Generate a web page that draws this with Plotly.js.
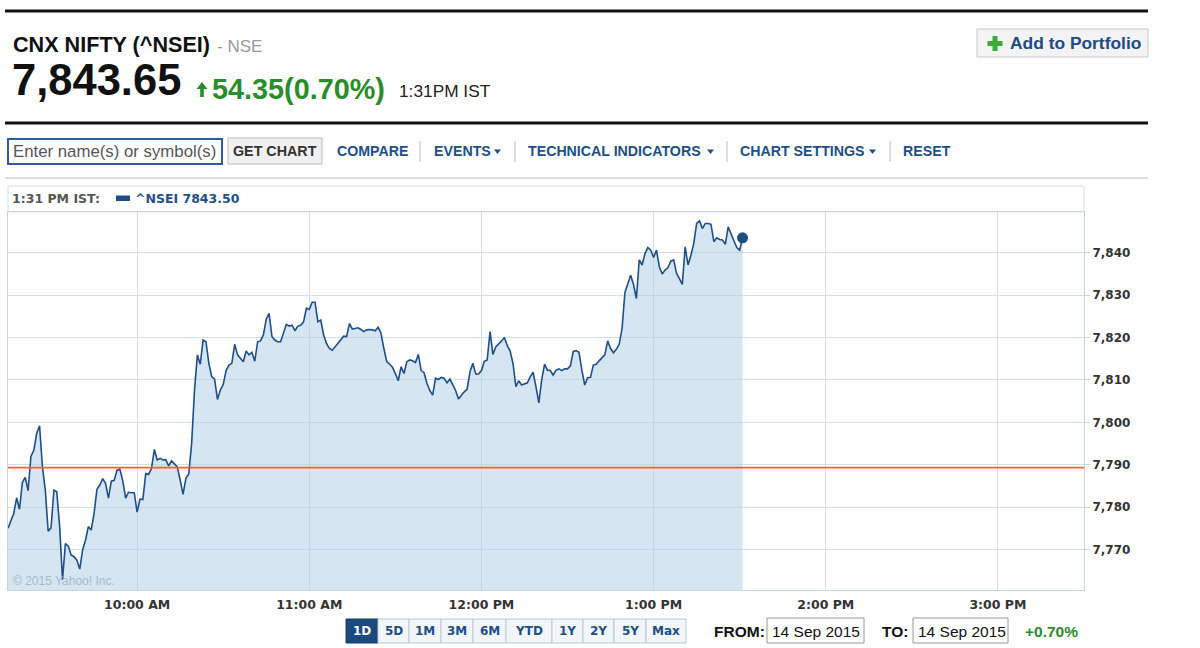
<!DOCTYPE html>
<html><head><meta charset="utf-8">
<script src="https://cdn.plot.ly/plotly-3.0.1.min.js"></script>
<style>html,body{margin:0;padding:0;background:#fff;}#chart{width:1200px;height:648px;}</style>
</head><body><div id="chart"></div>
<script>
const day = '2015-09-14 ';
const times = [
"09:15","09:16","09:17","09:18","09:19","09:20","09:21","09:22","09:23","09:24","09:25","09:26","09:27","09:28","09:29",
"09:30","09:31","09:32","09:33","09:34","09:35","09:36","09:37","09:38","09:39","09:40","09:41","09:42","09:43","09:44",
"09:45","09:46","09:47","09:48","09:49","09:50","09:51","09:52","09:53","09:54","09:55","09:56","09:57","09:58","09:59",
"10:00","10:01","10:02","10:03","10:04","10:05","10:06","10:07","10:08","10:09","10:10","10:11","10:12","10:13","10:14",
"10:15","10:16","10:17","10:18","10:19","10:20","10:21","10:22","10:23","10:24","10:25","10:26","10:27","10:28","10:29",
"10:30","10:31","10:32","10:33","10:34","10:35","10:36","10:37","10:38","10:39","10:40","10:41","10:42","10:43","10:44",
"10:45","10:46","10:47","10:48","10:49","10:50","10:51","10:52","10:53","10:54","10:55","10:56","10:57","10:58","10:59",
"11:00","11:01","11:02","11:03","11:04","11:05","11:06","11:07","11:08","11:09","11:10","11:11","11:12","11:13","11:14",
"11:15","11:16","11:17","11:18","11:19","11:20","11:21","11:22","11:23","11:24","11:25","11:26","11:27","11:28","11:29",
"11:30","11:31","11:32","11:33","11:34","11:35","11:36","11:37","11:38","11:39","11:40","11:41","11:42","11:43","11:44",
"11:45","11:46","11:47","11:48","11:49","11:50","11:51","11:52","11:53","11:54","11:55","11:56","11:57","11:58","11:59",
"12:00","12:01","12:02","12:03","12:04","12:05","12:06","12:07","12:08","12:09","12:10","12:11","12:12","12:13","12:14",
"12:15","12:16","12:17","12:18","12:19","12:20","12:21","12:22","12:23","12:24","12:25","12:26","12:27","12:28","12:29",
"12:30","12:31","12:32","12:33","12:34","12:35","12:36","12:37","12:38","12:39","12:40","12:41","12:42","12:43","12:44",
"12:45","12:46","12:47","12:48","12:49","12:50","12:51","12:52","12:53","12:54","12:55","12:56","12:57","12:58","12:59",
"13:00","13:01","13:02","13:03","13:04","13:05","13:06","13:07","13:08","13:09","13:10","13:11","13:12","13:13","13:14",
"13:15","13:16","13:17","13:18","13:19","13:20","13:21","13:22","13:23","13:24","13:25","13:26","13:27","13:28","13:29",
"13:30","13:31"
];
const nsei = [
7775.0,7776.8,7778.5,7782.2,7779.5,7785.8,7787.0,7783.9,7792.0,7793.4,
7797.4,7799.2,7789.5,7784.0,7774.3,7775.1,7784.0,7783.6,7775.4,7762.9,
7771.4,7770.8,7768.7,7768.3,7767.5,7765.4,7769.9,7772.2,7775.4,7774.6,
7778.5,7784.2,7785.2,7786.7,7785.6,7782.1,7786.1,7786.3,7788.7,7788.9,
7786.2,7782.1,7783.5,7783.4,7783.4,
7778.8,7781.9,7781.8,7787.9,7787.7,
7789.1,7793.6,7791.1,7791.5,7791.1,7791.2,7789.7,7790.9,7790.3,7789.5,
7786.4,7783.0,7786.8,7787.8,7795.0,7807.6,7815.9,7813.7,7819.4,7819.0,
7813.9,7810.8,7810.2,7805.4,7807.6,7808.9,7812.2,7813.5,7813.9,7818.4,
7815.9,7815.1,7814.3,7816.8,7815.9,7816.5,7814.4,7819.0,7819.2,7820.6,
7824.3,7825.7,7820.2,7819.4,7819.0,7819.0,7821.1,7823.1,7822.7,7822.9,
7821.6,7822.7,7822.9,7823.7,7826.9,
7826.6,7828.3,7828.3,7823.7,7824.1,
7820.6,7818.6,7817.4,7817.0,7817.8,7818.6,7819.4,7820.3,7820.2,7823.3,
7822.0,7822.1,7822.3,7821.9,7821.4,7821.8,7821.9,7821.8,7821.6,7822.4,
7821.0,7817.4,7814.3,7813.7,7813.0,7811.5,7809.8,7813.1,7811.5,7814.3,
7814.7,7814.5,7814.1,7816.0,7812.2,7811.7,7809.2,7807.5,7806.4,7810.4,
7810.1,7810.6,7810.4,7809.3,7810.2,7808.9,7807.5,7805.5,7806.4,7807.2,
7807.8,7811.9,7813.9,7811.4,7811.4,
7812.2,7814.4,7814.7,7821.4,7816.0,
7817.8,7818.4,7819.2,7820.0,7818.1,7816.8,7813.9,7808.4,7809.8,7808.8,
7809.0,7809.3,7810.7,7811.8,7808.4,7804.6,7810.0,7813.7,7812.3,7812.2,
7811.1,7812.3,7812.6,7812.2,7812.6,7812.6,7813.3,7816.7,7816.9,7816.5,
7812.3,7808.8,7810.5,7810.6,7813.5,7813.7,7814.5,7815.1,7815.9,7819.2,
7817.4,7816.4,7817.2,7818.4,7822.1,7830.6,7832.6,7834.7,7832.5,7829.2,
7838.3,7837.1,7839.8,7841.2,7840.6,
7838.9,7840.6,7836.7,7835.0,7835.9,
7836.5,7838.0,7838.3,7835.1,7833.9,7832.5,7841.4,7837.1,7839.4,7842.2,
7846.9,7847.5,7845.7,7846.9,7846.9,7846.7,7842.6,7843.5,7843.1,7843.0,
7842.0,7846.1,7844.4,7842.6,7841.2,7840.6,7843.5
];
const prevClose = 7789.30;
const lastTime = '13:31';
const lastValue = 7843.50;
const xTickTimes = ['10:00','11:00','12:00','13:00','14:00','15:00'];
const xTickLabels = ['10:00 AM','11:00 AM','12:00 PM','1:00 PM','2:00 PM','3:00 PM'];
const yTickVals = [7770,7780,7790,7800,7810,7820,7830,7840];
const yTickLabels = ['7,770','7,780','7,790','7,800','7,810','7,820','7,830','7,840'];
const rangeLabels = ['1D','5D','1M','3M','6M','YTD','1Y','2Y','5Y','Max'];
const navLinks = ['COMPARE','EVENTS','TECHNICAL INDICATORS','CHART SETTINGS','RESET'];

const W=1200,H=648,L=8,R=116,T=212,B=58;
const pw=W-L-R, ph=H-T-B;
const X=px=>(px-L)/pw, Y=py=>(H-B-py)/ph;
const SANS='Liberation Sans, Arial, sans-serif', VER='DejaVu Sans, Verdana, sans-serif';

const shapes=[], ann=[];
function rect(x0,y0,x1,y1,fill,line,lw){shapes.push({type:'rect',xref:'paper',yref:'paper',x0:X(x0),x1:X(x1),y0:Y(y1),y1:Y(y0),fillcolor:fill||'rgba(0,0,0,0)',line:{color:line||'rgba(0,0,0,0)',width:lw===undefined?1:lw}});}
function seg(x0,y0,x1,y1,color,w){shapes.push({type:'line',xref:'paper',yref:'paper',x0:X(x0),x1:X(x1),y0:Y(y0),y1:Y(y1),line:{color:color,width:w}});}
function poly(pts,fill){shapes.push({type:'path',xref:'paper',yref:'paper',path:'M'+pts.map(p=>X(p[0])+','+Y(p[1])).join('L')+'Z',fillcolor:fill,line:{width:0}});}
function txt(t,px,py,size,color,opts){opts=opts||{};ann.push({text:t,xref:'paper',yref:'paper',x:X(px),y:Y(py),xanchor:opts.anchor||'left',yanchor:'middle',showarrow:false,borderpad:0,font:{family:opts.family||SANS,size:size,color:color,weight:opts.bold?'bold':'normal'}});}

// header
seg(5,11,1148,11,'#111',3);
txt('CNX NIFTY (^NSEI)',12,45,21.6,'#111',{bold:true});
txt('- NSE',216,46,17,'#999');
txt('7,843.65',11,80,43.5,'#111',{bold:true});
poly([[202,82],[207.5,89],[203.8,89],[203.8,97],[200.2,97],[200.2,89],[196.5,89]],'#2a8c2a');
txt('54.35(0.70%)',211,89,28.8,'#2a8c2a',{bold:true});
txt('1:31PM IST',398,91,17.3,'#222');
rect(977,29,1148,57,'#f3f3f3','#c9c9c9',1);
poly([[992.5,36],[997.5,36],[997.5,41],[1002.5,41],[1002.5,46],[997.5,46],[997.5,51],[992.5,51],[992.5,46],[987.5,46],[987.5,41],[992.5,41]],'#3cab3c');
txt('Add to Portfolio',1009,43,17.4,'#1a4b85',{bold:true});
seg(5,123,1148,123,'#111',3);

// toolbar
rect(8,139,222,164,'#fff','#2f5a9e',2);
txt('Enter name(s) or symbol(s)',12,151,16.8,'#555');
rect(228,138,322,164,'#f0f0f0','#bdbdbd',1);
txt('GET CHART',275,151,14.3,'#333',{bold:true,anchor:'center'});
const navX=[336,433,527,739,902];
navLinks.forEach((t,i)=>txt(t,navX[i],151,14.2,'#1b4f8a',{bold:true}));
[[494,501],[707,714],[869,876]].forEach(a=>poly([[a[0],149.5],[a[1],149.5],[(a[0]+a[1])/2,154]],'#1b4f8a'));
[420,515,727,890].forEach(x=>seg(x,141,x,162,'#d3d3d3',1.5));
seg(5,178,1148,178,'#dcdcdc',2);

// legend row
rect(8,186,1084,212,'rgba(0,0,0,0)','#d5dde6',1);
txt('1:31 PM IST:',11,198,12.5,'#555',{bold:true,family:VER});
rect(116,195.5,130,201,'#1f4f8b','#1f4f8b',0);
txt('^NSEI '+lastValue.toFixed(2),134,198,12.5,'#1f4f8b',{bold:true,family:VER});

// watermark
txt('© 2015 Yahoo! Inc.',12,581,12,'#abb9c7');

// bottom controls
const rb=[346,378,409,441,473,506,552,583,614,646,686];
rangeLabels.forEach((t,i)=>{
  const sel=i===0;
  rect(rb[i],619,rb[i+1],643,sel?'#1d4a7d':'#f3f6f9',sel?'#163a63':'#b9c9d9',1);
  txt(t,(rb[i]+rb[i+1])/2,631,12,sel?'#fff':'#1b4f8a',{bold:true,family:VER,anchor:'center'});
});
txt('FROM:',713,631,15.5,'#111',{bold:true});
rect(767,618,864,643,'#fff','#999',1);
txt('14 Sep 2015',771,631,15.5,'#111');
txt('TO:',881,631,15.5,'#111',{bold:true});
rect(913,618,1008,643,'#fff','#999',1);
txt('14 Sep 2015',917,631,15.5,'#111');
txt('+0.70%',1024,631,15.5,'#2a8c2a',{bold:true});

// previous close line
shapes.push({type:'line',xref:'paper',yref:'y',x0:0,x1:1,y0:prevClose,y1:prevClose,line:{color:'#f8602a',width:1.7}});

const traces=[
 {type:'scatter',mode:'lines',x:times.map(t=>day+t),y:nsei,fill:'tozeroy',fillcolor:'rgba(178,207,230,0.55)',line:{color:'#1f4f8b',width:1.6},hoverinfo:'skip'},
 {type:'scatter',mode:'markers',x:[day+lastTime],y:[lastValue],marker:{size:11,color:'#1d4f85'},hoverinfo:'skip'}
];
const layout={
 width:W,height:H,margin:{l:L,r:R,t:T,b:B,pad:0},paper_bgcolor:'#fff',plot_bgcolor:'#fff',showlegend:false,
 font:{family:SANS},
 xaxis:{type:'date',range:[day+'09:15',day+'15:30'],tickvals:xTickTimes.map(t=>day+t),ticktext:xTickLabels,
   showgrid:true,gridcolor:'#d3dee9',gridwidth:1,zeroline:false,showline:true,linecolor:'#c7d5e3',mirror:true,
   ticks:'',ticklabelstandoff:3,tickfont:{family:VER,size:12.5,color:'#333',weight:'bold'}},
 yaxis:{side:'right',range:[7760.45,7849.6],tickvals:yTickVals,ticktext:yTickLabels,showgrid:true,gridcolor:'#d3dee9',
   zeroline:false,showline:true,linecolor:'#c7d5e3',mirror:true,ticks:'outside',ticklen:5,tickcolor:'#c7d5e3',
   tickfont:{family:VER,size:12,color:'#333',weight:'bold'}},
 shapes:shapes,annotations:ann
};
Plotly.newPlot('chart',traces,layout,{displayModeBar:false,staticPlot:true});
</script></body></html>
